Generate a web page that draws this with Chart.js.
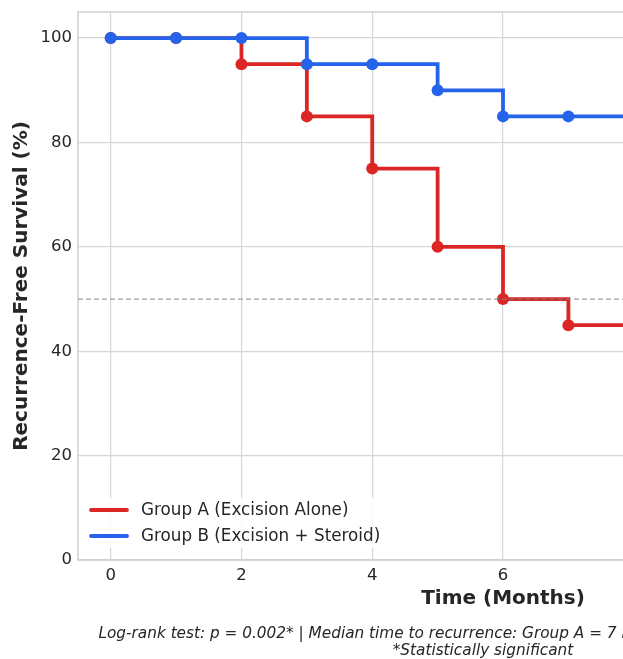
<!DOCTYPE html>
<html>
<head>
<meta charset="utf-8">
<script src="https://cdn.jsdelivr.net/npm/chart.js@4.4.1/dist/chart.umd.min.js"></script>
<style>
  html, body { margin: 0; padding: 0; background: #fff; overflow: hidden; width: 623px; height: 659px; }
  #wrap { position: relative; width: 966px; height: 659px; }
  #chart { position: absolute; left: 0; top: 0; }
  .note {
    position: absolute; left: 0; width: 966px; text-align: center;
    font-family: "DejaVu Sans", sans-serif; font-style: italic; font-size: 15.3px;
    color: #262626; white-space: nowrap; line-height: 17px;
  }
</style>
</head>
<body>
<div id="wrap">
  <canvas id="chart" width="966" height="659"></canvas>
  <div class="note" id="note" style="top: 625px;"></div>
</div>
<script>
// Kaplan-Meier style recurrence-free survival
const months = [0, 1, 2, 3, 4, 5, 6, 7, 8];
const groupA = [100, 100, 95, 85, 75, 60, 50, 45, 45];
const groupB = [100, 100, 100, 95, 95, 90, 85, 85, 85];
const seriesLabels = ['Group A (Excision Alone)', 'Group B (Excision + Steroid)'];
const seriesColors = ['#dc2626', '#2563eb'];
const xTicks = [0, 2, 4, 6, 8, 10, 12];
const yTicks = [0, 20, 40, 60, 80, 100];
const medianLevel = 50;
const noteLines = [
    'Log-rank test: p = 0.002* | Median time to recurrence: Group A = 7 months, Group B = Not reached',
    '*Statistically significant'
];

document.getElementById('note').innerHTML = noteLines.join('<br>');

const FONT = '"DejaVu Sans", sans-serif';
const INK = '#262626';
const GRID = '#d6d6d6';

const toPoints = (vals) => months.map((m, i) => ({ x: m, y: vals[i] }));

// frame, median reference line and in-plot legend
const decorations = {
    id: 'decorations',
    beforeDatasetsDraw(chart) {
        const { ctx, chartArea: a } = chart;
        ctx.save();
        ctx.strokeStyle = '#cfcfcf';
        ctx.lineWidth = 1.5;
        ctx.strokeRect(a.left, a.top, a.right - a.left, a.bottom - a.top);
        ctx.restore();
    },
    afterDatasetsDraw(chart) {
        const { ctx, chartArea: a, scales } = chart;
        const y = scales.y.getPixelForValue(medianLevel);
        ctx.save();
        ctx.strokeStyle = 'rgba(128,128,128,0.75)';
        ctx.lineWidth = 1.3;
        ctx.setLineDash([5, 3]);
        ctx.beginPath();
        ctx.moveTo(a.left, y);
        ctx.lineTo(a.right, y);
        ctx.stroke();
        ctx.restore();

        // legend box
        const rows = [a.bottom - 50, a.bottom - 24];
        ctx.save();
        ctx.font = '16.8px ' + FONT;
        const textW = Math.max(...seriesLabels.map(t => ctx.measureText(t).width));
        ctx.fillStyle = 'rgba(255,255,255,0.9)';
        ctx.fillRect(a.left + 6, rows[0] - 12, 63 + textW + 10, rows[1] - rows[0] + 24);
        ctx.textBaseline = 'middle';
        seriesLabels.forEach((label, i) => {
            ctx.strokeStyle = seriesColors[i];
            ctx.lineWidth = 3.8;
            ctx.lineCap = 'round';
            ctx.beginPath();
            ctx.moveTo(a.left + 13, rows[i]);
            ctx.lineTo(a.left + 49, rows[i]);
            ctx.stroke();
            ctx.fillStyle = INK;
            ctx.fillText(label, a.left + 63, rows[i] + 1);
        });
        ctx.restore();
    }
};

new Chart(document.getElementById('chart'), {
    type: 'line',
    data: {
        datasets: [
            {
                label: seriesLabels[0],
                data: toPoints(groupA),
                borderColor: seriesColors[0],
                backgroundColor: seriesColors[0],
                borderWidth: 3.8,
                stepped: 'before',
                pointRadius: 6,
                pointHoverRadius: 6,
                pointBorderWidth: 0,
                order: 1
            },
            {
                label: seriesLabels[1],
                data: toPoints(groupB),
                borderColor: seriesColors[1],
                backgroundColor: seriesColors[1],
                borderWidth: 3.8,
                stepped: 'before',
                pointRadius: 6,
                pointHoverRadius: 6,
                pointBorderWidth: 0,
                order: 0
            }
        ]
    },
    options: {
        responsive: false,
        animation: false,
        devicePixelRatio: 1,
        layout: { padding: { left: 6, top: 12, right: 38, bottom: 44 } },
        plugins: {
            legend: { display: false },
            tooltip: { enabled: false }
        },
        scales: {
            x: {
                type: 'linear',
                min: -0.5,
                max: 12.5,
                afterBuildTicks: (s) => { s.ticks = xTicks.map(v => ({ value: v })); },
                afterFit: (s) => { s.height = 55; },
                ticks: {
                    includeBounds: false,
                    padding: 6,
                    color: INK,
                    font: { family: FONT, size: 16.5 }
                },
                grid: { color: GRID, lineWidth: 1.2, drawTicks: false },
                border: { display: false },
                title: {
                    display: true,
                    text: 'Time (Months)',
                    color: INK,
                    font: { family: FONT, size: 20, weight: 'bold' },
                    padding: { top: 4, bottom: 4 }
                }
            },
            y: {
                min: 0,
                max: 105,
                afterBuildTicks: (s) => { s.ticks = yTicks.map(v => ({ value: v })); },
                afterFit: (s) => { s.width = 72; s.paddingTop = 0; s.paddingBottom = 0; },
                ticks: {
                    includeBounds: false,
                    padding: 6,
                    color: INK,
                    font: { family: FONT, size: 16.5 }
                },
                grid: { color: GRID, lineWidth: 1.2, drawTicks: false },
                border: { display: false },
                title: {
                    display: true,
                    text: 'Recurrence-Free Survival (%)',
                    color: INK,
                    font: { family: FONT, size: 20, weight: 'bold' },
                    padding: { top: 4, bottom: 4 }
                }
            }
        }
    },
    plugins: [decorations]
});
</script>
</body>
</html>
